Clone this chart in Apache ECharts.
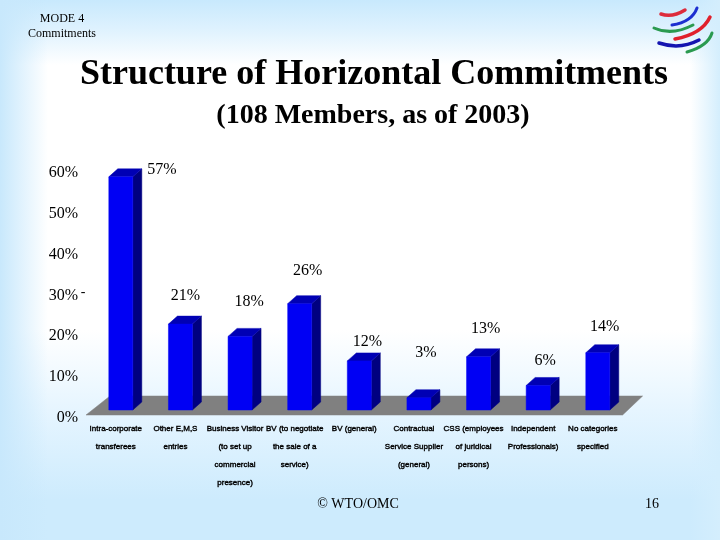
<!DOCTYPE html>
<html><head><meta charset="utf-8">
<style>
html,body{margin:0;padding:0;width:720px;height:540px;overflow:hidden}
#c{width:720px;height:540px;
background:
 linear-gradient(to right,#c8e8fc 0,rgba(255,255,255,0) 48px),
 linear-gradient(to left,#d4eefd 0,rgba(255,255,255,0) 30px),
 linear-gradient(to bottom,#c8e9fd 0,#dff2fe 30px,#ffffff 65px,#ffffff 330px,#e6f5ff 410px,#cdebfd 500px,#cdebfd 540px);}
</style>
<script src="https://cdn.jsdelivr.net/npm/echarts@6/dist/echarts.min.js"></script>
</head><body><div id="c"></div>
<script>
var categories = [
 'Intra-corporate\ntransferees','Other E,M,S\nentries','Business Visitor\n(to set up\ncommercial\npresence)',
 'BV (to negotiate\nthe sale of a\nservice)','BV (general)','Contractual\nService Supplier\n(general)',
 'CSS (employees\nof juridical\npersons)','Independent\nProfessionals)','No categories\nspecified'];
var barHeights = [57,21,18,26,12,3,13,6,14];
var valueLabels = ['57%','21%','18%','26%','12%','3%','13%','6%','14%'];
var labelDx = [41,5,9,8,8,7,7,7,7];
var labelDy = [-7,-28,-35,-33,-19,-45,-28,-25,-26];

var chart = echarts.init(document.getElementById('c'),null,{renderer:'canvas'});
var depthX = 9, depthY = 8;
function poly(points,fill){return {type:'polygon',shape:{points:points},style:{fill:fill,stroke:fill,lineWidth:0.5}};}

function renderBar(params,api){
  var i=api.value(0), v=api.value(1);
  var top=api.coord([i,v]), base=api.coord([i,0]);
  var w=24, x0=top[0]-w/2, x1=top[0]+w/2, y0=top[1], y1=base[1];
  return {type:'group',children:[
    poly([[x1,y0],[x1+depthX,y0-depthY],[x1+depthX,y1-depthY],[x1,y1]],'#000080'),
    poly([[x0,y0],[x0+depthX,y0-depthY],[x1+depthX,y0-depthY],[x1,y0]],'#0000b4'),
    poly([[x0,y0],[x1,y0],[x1,y1],[x0,y1]],'#0000f4')
  ]};
}
function renderFloor(params,api){
  var cs=params.coordSys, yb=cs.y+cs.height;
  return poly([[cs.x-5,yb+5],[cs.x+cs.width-5,yb+5],[cs.x+cs.width+15,yb-14],[cs.x+19,yb-14]],'#808080');
}
function renderLabel(params,api){
  var i=api.value(0), p=api.coord([i,api.value(1)]);
  return {type:'text',style:{text:valueLabels[i],x:p[0]+labelDx[i],y:p[1]+labelDy[i],align:'center',verticalAlign:'middle',
    font:'16px "Liberation Serif"',fill:'#000'}};
}
var rows = barHeights.map(function(v,i){return [i,v];});

function arc(x1,y1,cx,cy,x2,y2,c,w){return {type:'bezierCurve',shape:{x1:x1,y1:y1,x2:x2,y2:y2,cpx1:cx,cpy1:cy},style:{fill:'none',stroke:c,lineWidth:w,lineCap:'round'},silent:true};}

chart.setOption({
  animation:false,
  grid:{left:91,right:92.4,top:164.6,bottom:130,containLabel:false},
  xAxis:{type:'category',data:categories,axisLine:{show:false},axisTick:{show:false},
    axisLabel:{interval:0,margin:10,lineHeight:18,padding:[0,10,0,0],color:'#000',fontWeight:'normal',
      fontFamily:'Liberation Sans',fontSize:8,textBorderColor:'#000',textBorderWidth:0.4,align:'center',verticalAlign:'top'}},
  yAxis:{type:'value',min:0,max:60,interval:10,splitLine:{show:false},axisLine:{show:false},axisTick:{show:false},
    axisLabel:{margin:13,color:'#000',fontFamily:'Liberation Serif',fontSize:16,
      formatter:function(v){return v+'%';},verticalAlign:'top'}},
  series:[
    {type:'custom',data:[[0,0]],renderItem:renderFloor,silent:true,clip:false,z:1},
    {type:'custom',data:rows,renderItem:renderBar,encode:{x:0,y:1},clip:false,z:2},
    {type:'custom',data:rows,renderItem:renderLabel,encode:{x:0,y:1},clip:false,z:3}
  ],
  graphic:[
    {type:'text',style:{text:'MODE 4',x:62,y:19,align:'center',verticalAlign:'middle',font:'12px "Liberation Serif"',fill:'#000'}},
    {type:'text',style:{text:'Commitments',x:62,y:34,align:'center',verticalAlign:'middle',font:'12px "Liberation Serif"',fill:'#000'}},
    {type:'text',style:{text:'Structure of Horizontal Commitments',x:374,y:75,align:'center',verticalAlign:'middle',font:'bold 36px "Liberation Serif"',fill:'#000'}},
    {type:'text',style:{text:'(108 Members, as of 2003)',x:373,y:116,align:'center',verticalAlign:'middle',font:'bold 28px "Liberation Serif"',fill:'#000'}},
    {type:'text',style:{text:'© WTO/OMC',x:358,y:504,align:'center',verticalAlign:'middle',font:'14px "Liberation Serif"',fill:'#000'}},
    {type:'text',style:{text:'16',x:652,y:504,align:'center',verticalAlign:'middle',font:'14px "Liberation Serif"',fill:'#000'}},
    {type:'text',style:{text:'-',x:83,y:292,align:'center',verticalAlign:'middle',font:'14px "Liberation Serif"',fill:'#000'}},
    arc(661,14,672,18,685,10,'#dd2c3c',3.5),
    arc(672,25,692,22,697,8,'#1c2fd0',3),
    arc(654,28,672,36,693,25,'#2a9a50',3),
    arc(675,39,702,34,710,17,'#e0202c',3.5),
    arc(659,43,680,50,699,40,'#1414b0',3.5),
    arc(687,52,708,46,712,33,'#2a9a50',3)
  ]
});
</script></body></html>
